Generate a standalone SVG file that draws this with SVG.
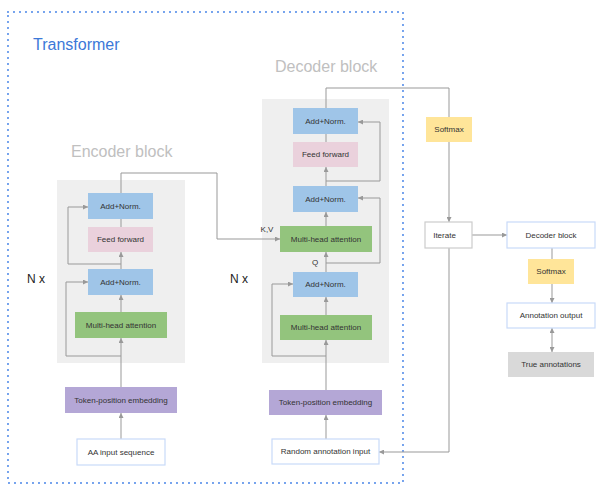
<svg xmlns="http://www.w3.org/2000/svg" width="600" height="494" viewBox="0 0 600 494">
<defs>
<marker id="ah" viewBox="0 0 6 6" refX="6" refY="3" markerWidth="5" markerHeight="5" orient="auto-start-reverse" markerUnits="userSpaceOnUse"><path d="M0,0 L6,3 L0,6 z" fill="#999"/></marker>
</defs>
<style>
.t{font-family:"Liberation Sans",Arial,sans-serif;font-size:8px;fill:#333;text-anchor:middle;dominant-baseline:central}
.big{font-family:"Liberation Sans",Arial,sans-serif;font-size:16px}
.an{fill:#9fc5e8}
.ff{fill:#ead1dc}
.mh{fill:#93c47d}
.te{fill:#b4a7d6}
.wb{fill:#fff;stroke:#c9daf8;stroke-width:1.2}
.wg{fill:#fff;stroke:#cccccc;stroke-width:1.2}
.sm{fill:#ffe599}
.ta{fill:#d9d9d9}
.bg{fill:#efefef}
.c path{fill:none;stroke:#999;stroke-width:1}
.c .a{marker-end:url(#ah)}
</style>
<rect x="8" y="12" width="395" height="471" fill="none" stroke="#4a86e8" stroke-width="2" stroke-dasharray="0 6" stroke-linecap="round"/>
<text x="33" y="50" class="big" fill="#3c78d8">Transformer</text>
<text x="71" y="157" class="big" fill="#c0c0c0">Encoder block</text>
<text x="275" y="72" class="big" fill="#c0c0c0">Decoder block</text>
<text x="27" y="283" font-family="Liberation Sans,Arial,sans-serif" font-size="12" fill="#222">N x</text>
<text x="230" y="283" font-family="Liberation Sans,Arial,sans-serif" font-size="12" fill="#222">N x</text>
<rect class="bg" x="57" y="180" width="128" height="183"/>
<rect class="bg" x="262" y="99" width="127" height="264"/>
<g class="c">
<path class="a" d="M121,439 V413"/>
<path class="a" d="M121,387 V338"/>
<path class="a" d="M121,356 H66 V282 H88"/>
<path class="a" d="M121,312 V295"/>
<path class="a" d="M121,269 V252"/>
<path class="a" d="M121,264 H68 V207 H88"/>
<path d="M121,227 V219"/>
<path class="a" d="M121,193 V173 H217 V239 H280"/>
<path class="a" d="M326,439 V415"/>
<path class="a" d="M326,390 V340"/>
<path class="a" d="M326,356 H272 V284 H293"/>
<path class="a" d="M326,315 V297"/>
<path class="a" d="M326,272 V252"/>
<path class="a" d="M326,263 H380 V198 H358"/>
<path class="a" d="M326,226 V212"/>
<path class="a" d="M326,186 V167"/>
<path class="a" d="M326,181 H380 V122 H358"/>
<path d="M326,142 V134"/>
<path d="M326,108 V88 H449 V117"/>
<path class="a" d="M449,142 V222"/>
<path class="a" d="M449,248 V452 H379"/>
<path class="a" d="M472,235 H507"/>
<path d="M552,248 V259"/>
<path class="a" d="M552,284 V303"/>
<path class="a" d="M552,328 V352" marker-start="url(#ah)"/>
</g>
<g id="enc-addnorm-top"><rect class="an" x="88" y="193" width="65" height="26"/><text class="t" x="120.5" y="206">Add+Norm.</text></g>
<g id="enc-ff"><rect class="ff" x="88" y="227" width="65" height="25"/><text class="t" x="120.5" y="239.5">Feed forward</text></g>
<g id="enc-addnorm"><rect class="an" x="88" y="269" width="65" height="26"/><text class="t" x="120.5" y="282">Add+Norm.</text></g>
<g id="enc-mha"><rect class="mh" x="75" y="312" width="92" height="26"/><text class="t" x="121" y="325">Multi-head attention</text></g>
<g id="enc-emb"><rect class="te" x="65" y="387" width="112" height="26"/><text class="t" x="121" y="400">Token-position embedding</text></g>
<g id="aa-input"><rect class="wb" x="77" y="439" width="88" height="26"/><text class="t" x="121" y="452">AA input sequence</text></g>
<g id="dec-addnorm-top"><rect class="an" x="293" y="108" width="65" height="26"/><text class="t" x="325.5" y="121">Add+Norm.</text></g>
<g id="dec-ff"><rect class="ff" x="293" y="142" width="65" height="25"/><text class="t" x="325.5" y="154.5">Feed forward</text></g>
<g id="dec-addnorm-mid"><rect class="an" x="293" y="186" width="65" height="26"/><text class="t" x="325.5" y="199">Add+Norm.</text></g>
<g id="dec-mha-cross"><rect class="mh" x="280" y="226" width="92" height="26"/><text class="t" x="326" y="239">Multi-head attention</text></g>
<g id="dec-addnorm-low"><rect class="an" x="293" y="272" width="65" height="25"/><text class="t" x="325.5" y="284.5">Add+Norm.</text></g>
<g id="dec-mha-self"><rect class="mh" x="280" y="315" width="92" height="25"/><text class="t" x="326" y="327.5">Multi-head attention</text></g>
<g id="dec-emb"><rect class="te" x="269" y="390" width="113" height="25"/><text class="t" x="325.5" y="402.5">Token-position embedding</text></g>
<g id="rand-input"><rect class="wb" x="272" y="439" width="107" height="25"/><text class="t" x="325.5" y="451.5">Random annotation input</text></g>
<text class="t" x="267" y="229">K,V</text>
<text class="t" x="315" y="262">Q</text>
<g id="softmax-top"><rect class="sm" x="426" y="117" width="46" height="25"/><text class="t" x="449" y="129.5">Softmax</text></g>
<g id="iterate"><rect class="wg" x="425" y="222" width="47" height="26"/><text class="t" x="444.5" y="235">Iterate</text></g>
<g id="decoder-block"><rect class="wb" x="507" y="222" width="88" height="26"/><text class="t" x="551" y="235">Decoder block</text></g>
<g id="softmax-right"><rect class="sm" x="528" y="259" width="46" height="25"/><text class="t" x="551" y="271.5">Softmax</text></g>
<g id="annotation-output"><rect class="wb" x="507" y="303" width="88" height="25"/><text class="t" x="551" y="315.5">Annotation output</text></g>
<g id="true-annotations"><rect class="ta" x="508" y="352" width="86" height="25"/><text class="t" x="551" y="364.5">True annotations</text></g>
</svg>
